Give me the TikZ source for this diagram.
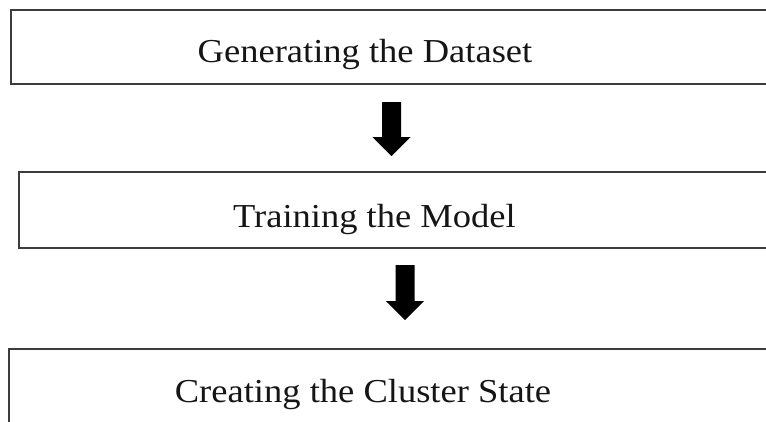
\documentclass[tikz,border=0pt]{standalone}
\usepackage{fontspec}
\setmainfont{Liberation Serif}
\usepackage{graphicx}
\definecolor{boxgray}{HTML}{3C3C3C}
\definecolor{inkblack}{HTML}{151515}
\begin{document}
\begin{tikzpicture}[x=1pt,y=-1pt,
  stagebox/.style={draw=boxgray,line width=2pt},
  stagetext/.style={anchor=base,inner sep=0pt,text=inkblack,
    font=\fontsize{33.5}{40}\selectfont},
  blockarrow/.style={fill=black,draw=none}]
\useasboundingbox (0,0) rectangle (766,421);
\clip (0,0) rectangle (766,421);

% three process stages (boxes run past the right edge)
\draw[stagebox] (10.5,9.5) rectangle (800,83.5);
\draw[stagebox] (19,172) rectangle (800,248);
\draw[stagebox] (9,348.5) rectangle (800,460);

\node[stagetext] (gen) at (365,62) {\scalebox{1.09}[1]{Generating the Dataset}};
\node[stagetext] (train) at (374.5,227) {\scalebox{1.09}[1]{Training the Model}};
\node[stagetext] (clust) at (363,402) {\scalebox{1.09}[1]{Creating the Cluster State}};

% block arrows between the stages
\coordinate (a1) at (391.5,102);
\coordinate (a2) at (405,265);
\fill[blockarrow] (a1) ++(-9.5,0) -- ++(19,0) -- ++(0,35) -- ++(9.5,0)
  -- ++(-19,19) -- ++(-19,-19) -- ++(9.5,0) -- cycle;
\fill[blockarrow] (a2) ++(-9.5,0) -- ++(19,0) -- ++(0,36) -- ++(9.5,0)
  -- ++(-19,19) -- ++(-19,-19) -- ++(9.5,0) -- cycle;
\end{tikzpicture}
\end{document}
